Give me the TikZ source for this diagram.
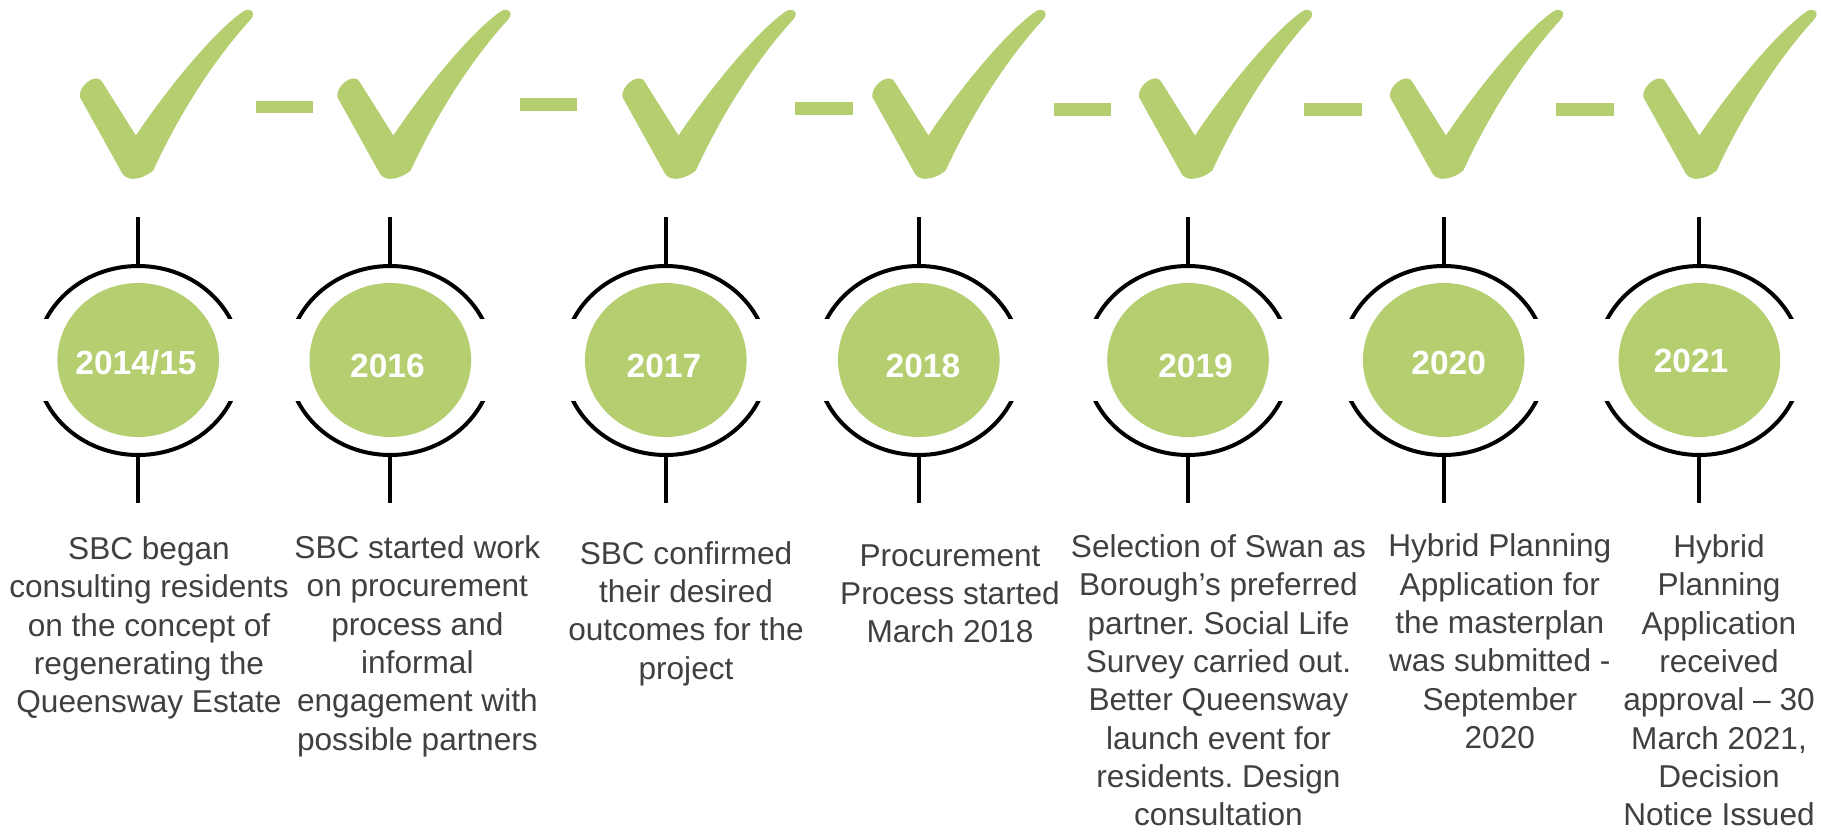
\documentclass[tikz,border=0pt]{standalone}
\usepackage{fontspec}
\setmainfont{Liberation Sans}
\usetikzlibrary{shapes.geometric}
\definecolor{tickgreen}{RGB}{181,206,112}
\definecolor{txtgray}{RGB}{64,64,64}
\frenchspacing
\begin{document}
\begin{tikzpicture}[x=1pt,y=-1pt,
  yearcirc/.style={ellipse, fill=tickgreen, draw=none, inner sep=0pt, outer sep=0pt, minimum width=161.6pt, minimum height=154pt},
  ringline/.style={draw=black, line width=4pt},
  stemline/.style={draw=black, line width=4pt},
  dashbar/.style={rectangle, fill=tickgreen, draw=none, inner sep=0pt, outer sep=0pt, minimum width=57.4pt, minimum height=12.6pt},
  yearlbl/.style={font=\bfseries\fontsize{33.5}{40}\selectfont, text=white, inner sep=0pt, anchor=base},
  descr/.style={font=\frenchspacing\fontsize{31.6}{38.3}\selectfont, text=txtgray, align=center, anchor=north, inner sep=0pt},
  checkmark/.pic={
    \fill[tickgreen] (-34,-54) -- (0,0)
      .. controls (30,-45) and (75,-100) .. (104,-121.7)
      .. controls (108,-125) and (111,-126) .. (112.3,-125.7)
      .. controls (115,-125.5) and (117.5,-124.5) .. (117.3,-121.5)
      .. controls (117.3,-119.5) and (116,-117.5) .. (114.7,-116)
      .. controls (80,-78) and (45,-25) .. (17.3,35)
      .. controls (12,39.5) and (4,43.5) .. (-4.3,43.3)
      .. controls (-9,43) and (-13,40) .. (-14.3,36.7)
      -- (-56,-38.3)
      .. controls (-57,-46) and (-50,-54) .. (-43,-56.5)
      .. controls (-38,-58) and (-35,-56) .. (-34,-54) -- cycle;
  }
]
\useasboundingbox (0,0) rectangle (1821,832);
\fill[white] (0,0) rectangle (1821,832);

% check marks
\foreach \kx [count=\i] in {135.9,393.4,678.5,928.4,1195,1446,1699.4} {
  \pic (k\i) at (\kx,135.5) {checkmark};
}

% dashes between check marks
\node[dashbar] (b1) at (284.3,107) {};
\node[dashbar] (b2) at (548.4,104.5) {};
\node[dashbar] (b3) at (823.9,108.5) {};
\node[dashbar] (b4) at (1082.2,109.7) {};
\node[dashbar] (b5) at (1333.1,109.7) {};
\node[dashbar] (b6) at (1584.9,109.7) {};

% circles, rings and stems
\foreach \cx [count=\i] in {138.2,390.3,665.8,918.8,1188,1443.7,1699.4} {
  \node[yearcirc] (c\i) at (\cx,360) {};
  \coordinate (rt\i) at (\cx,266);
  \coordinate (rb\i) at (\cx,455);
  \coordinate (lt\i) at (\cx,217.3);
  \coordinate (lb\i) at (\cx,503);
  \begin{scope}
    \clip (\cx-112,200) rectangle (\cx+112,318.3);
    \draw[ringline] (\cx,360.5) ellipse [x radius=102.5, y radius=94.5];
  \end{scope}
  \begin{scope}
    \clip (\cx-112,401.7) rectangle (\cx+112,520);
    \draw[ringline] (\cx,360.5) ellipse [x radius=102.5, y radius=94.5];
  \end{scope}
  \draw[stemline] (lt\i) -- (rt\i);
  \draw[stemline] (rb\i) -- (lb\i);
}

% year labels
\node[yearlbl] (y1) at (136,374) {2014/15};
\node[yearlbl] (y2) at (387.5,377) {2016};
\node[yearlbl] (y3) at (664,377) {2017};
\node[yearlbl] (y4) at (923,377) {2018};
\node[yearlbl] (y5) at (1195.6,377) {2019};
\node[yearlbl] (y6) at (1448.7,374) {2020};
\node[yearlbl] (y7) at (1691,372.5) {2021};

% descriptions
\node[descr] (d1) at (149,531.3) {\rule{0pt}{28pt}SBC began\\consulting residents\\on the concept of\\regenerating the\\Queensway Estate};
\node[descr] (d2) at (417.4,530.3) {\rule{0pt}{28pt}SBC started work\\on procurement\\process and\\informal\\engagement with\\possible partners};
\node[descr] (d3) at (686,536) {\rule{0pt}{28pt}SBC confirmed\\their desired\\outcomes for the\\project};
\node[descr] (d4) at (950,538) {\rule{0pt}{28pt}Procurement\\Process started\\March 2018};
\node[descr] (d5) at (1218.5,529.3) {\rule{0pt}{28pt}Selection of Swan as\\Borough’s preferred\\partner. Social Life\\Survey carried out.\\Better Queensway\\launch event for\\residents. Design\\consultation};
\node[descr] (d6) at (1499.8,528.7) {\rule{0pt}{28pt}Hybrid Planning\\Application for\\the masterplan\\was submitted -\\September\\2020};
\node[descr] (d7) at (1719,529.3) {\rule{0pt}{28pt}Hybrid\\Planning\\Application\\received\\approval – 30\\March 2021,\\Decision\\Notice Issued};
\end{tikzpicture}
\end{document}
